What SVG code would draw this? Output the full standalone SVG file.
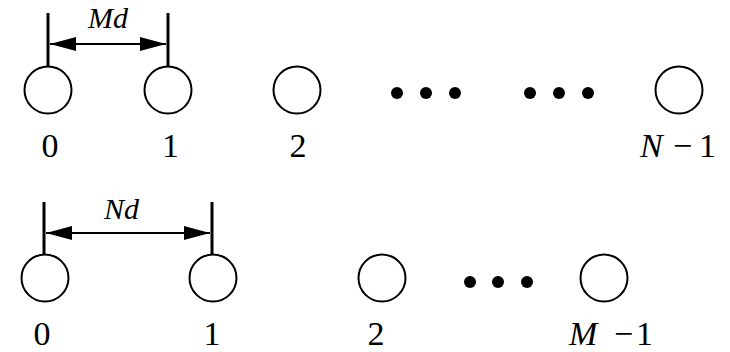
<svg xmlns="http://www.w3.org/2000/svg" width="730" height="352" viewBox="0 0 730 352">
<defs>
<style>
.el{fill:none;stroke:#000;stroke-width:2}
.tick{stroke:#000;stroke-width:3}
.dim{stroke:#000;stroke-width:2}
.dot{fill:#000}
</style>
<marker id="ah" viewBox="0 0 26 14" refX="26" refY="7" markerWidth="26" markerHeight="14" markerUnits="userSpaceOnUse" orient="auto-start-reverse">
<path d="M0,0 L26,7 L0,14 Z" fill="#000"/>
</marker>
</defs>
<rect width="730" height="352" fill="#fff"/>

<g id="top-0"><circle class="el" cx="48" cy="90" r="23.5"/><text x="41.5" y="157" font-family="Liberation Serif, serif" font-size="34">0</text></g>
<g id="top-1"><circle class="el" cx="168" cy="90" r="23.5"/><text x="162" y="157" font-family="Liberation Serif, serif" font-size="34">1</text></g>
<g id="top-2"><circle class="el" cx="297" cy="90" r="23.5"/><text x="289.5" y="157" font-family="Liberation Serif, serif" font-size="34">2</text></g>
<g id="top-dots1"><circle class="dot" cx="397" cy="93" r="6"/><circle class="dot" cx="426" cy="93" r="6"/><circle class="dot" cx="455" cy="93" r="6"/></g>
<g id="top-dots2"><circle class="dot" cx="530" cy="93" r="6"/><circle class="dot" cx="559" cy="93" r="6"/><circle class="dot" cx="588" cy="93" r="6"/></g>
<g id="top-n1"><circle class="el" cx="679" cy="90" r="23.5"/><text x="640" y="157" font-family="Liberation Serif, serif" font-size="34" font-style="italic">N</text><text x="673" y="157" font-family="Liberation Serif, serif" font-size="34">&#8722;</text><text x="699" y="157" font-family="Liberation Serif, serif" font-size="34">1</text></g>

<g id="bot-0"><circle class="el" cx="45" cy="278" r="23.5"/><text x="33.5" y="345" font-family="Liberation Serif, serif" font-size="34">0</text></g>
<g id="bot-1"><circle class="el" cx="213" cy="278" r="23.5"/><text x="203.5" y="345" font-family="Liberation Serif, serif" font-size="34">1</text></g>
<g id="bot-2"><circle class="el" cx="382" cy="278" r="23.5"/><text x="367.5" y="345" font-family="Liberation Serif, serif" font-size="34">2</text></g>
<g id="bot-dots"><circle class="dot" cx="470" cy="282" r="6"/><circle class="dot" cx="498" cy="282" r="6"/><circle class="dot" cx="527" cy="282" r="6"/></g>
<g id="bot-m1"><circle class="el" cx="604" cy="278" r="23.5"/><text x="569" y="345" font-family="Liberation Serif, serif" font-size="34" font-style="italic">M</text><text x="614" y="345" font-family="Liberation Serif, serif" font-size="34">&#8722;</text><text x="636" y="345" font-family="Liberation Serif, serif" font-size="34">1</text></g>

<g id="connectors">
<line class="tick" x1="48" y1="13" x2="48" y2="67"/>
<line class="tick" x1="168" y1="13" x2="168" y2="67"/>
<line class="dim" x1="50" y1="44" x2="166" y2="44" marker-start="url(#ah)" marker-end="url(#ah)"/>
<line class="tick" x1="44" y1="202" x2="44" y2="255"/>
<line class="tick" x1="212" y1="202" x2="212" y2="255"/>
<line class="dim" x1="46" y1="233" x2="210" y2="233" marker-start="url(#ah)" marker-end="url(#ah)"/>
</g>
<text x="88" y="28" font-family="Liberation Serif, serif" font-size="30" font-style="italic">Md</text>
<text x="104" y="219" font-family="Liberation Serif, serif" font-size="30" font-style="italic">Nd</text>
</svg>
